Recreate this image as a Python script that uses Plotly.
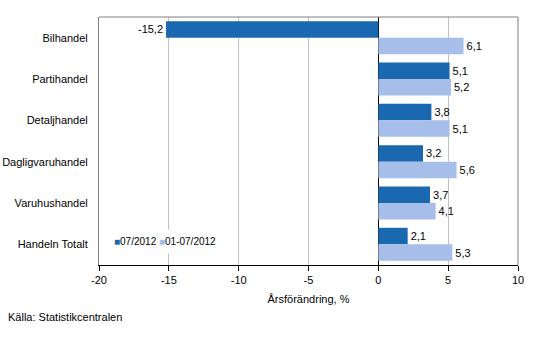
import plotly.graph_objects as go

categories = ["Bilhandel", "Partihandel", "Detaljhandel", "Dagligvaruhandel", "Varuhushandel", "Handeln Totalt"]
month_vals = [-15.2, 5.1, 3.8, 3.2, 3.7, 2.1]
period_vals = [6.1, 5.2, 5.1, 5.6, 4.1, 5.3]
series_names = ["07/2012", "01-07/2012"]
series_colors = ["#1a68b0", "#a7bdea"]
tick_vals = [-20, -15, -10, -5, 0, 5, 10]
tick_text = ["-20", "-15", "-10", "-5", "0", "5", "10"]

def fmt(v):
    return f"{v:.1f}".replace(".", ",")

fig = go.Figure()
for name, vals, col in [(series_names[0], month_vals, series_colors[0]),
                        (series_names[1], period_vals, series_colors[1])]:
    fig.add_trace(go.Bar(
        y=categories, x=vals, orientation="h", name=name,
        marker=dict(color=col, line=dict(width=0)),
        text=[fmt(v) for v in vals], textposition="outside",
        textfont=dict(size=11, color="black"), cliponaxis=False,
        showlegend=False,
    ))

fig.update_layout(
    width=533, height=359,
    margin=dict(l=99, r=15, t=17, b=94),
    paper_bgcolor="white", plot_bgcolor="white",
    font=dict(family="Liberation Sans, Arial, sans-serif", size=11, color="black"),
    barmode="group", bargap=0.2, bargroupgap=0.0,
    showlegend=False,
    xaxis=dict(
        range=[-20, 10], tickmode="array", tickvals=tick_vals, ticktext=tick_text,
        showgrid=True, gridcolor="#c0c0c0", gridwidth=1,
        zeroline=True, zerolinecolor="black", zerolinewidth=1,
        showline=True, linecolor="black", linewidth=1, mirror=False,
        ticks="outside", ticklen=5, tickcolor="black", automargin=False,
        title=dict(text="Årsförändring, %", font=dict(size=11), standoff=10),
    ),
    yaxis=dict(
        autorange="reversed", showline=True, linecolor="#808080", linewidth=1,
        ticks="", ticklabelstandoff=8, showgrid=False, automargin=False,
    ),
)

# frame (top & right)
fig.add_shape(type="line", xref="paper", yref="paper", x0=0, x1=1, y0=1, y1=1,
              line=dict(color="#808080", width=1))
fig.add_shape(type="line", xref="paper", yref="paper", x0=1, x1=1, y0=0, y1=1,
              line=dict(color="#808080", width=1))

# compact legend
legend_text = "&nbsp;".join(
    f"<span style='color:{c}'>■</span>{n}" for n, c in zip(series_names, series_colors)
)
fig.add_annotation(text=legend_text, xref="paper", yref="paper",
                   x=8/419, y=24/248, xanchor="left", yanchor="middle",
                   showarrow=False, font=dict(size=10), bgcolor="white",
                   borderpad=6)

fig.add_annotation(text="Källa: Statistikcentralen", xref="paper", yref="paper",
                   x=-93/419, y=-52/248, xanchor="left", yanchor="middle",
                   showarrow=False, font=dict(size=11))

fig.write_html("out.html", config={"displayModeBar": False},
               post_script="document.body.style.margin='0';document.body.style.overflow='hidden';")
